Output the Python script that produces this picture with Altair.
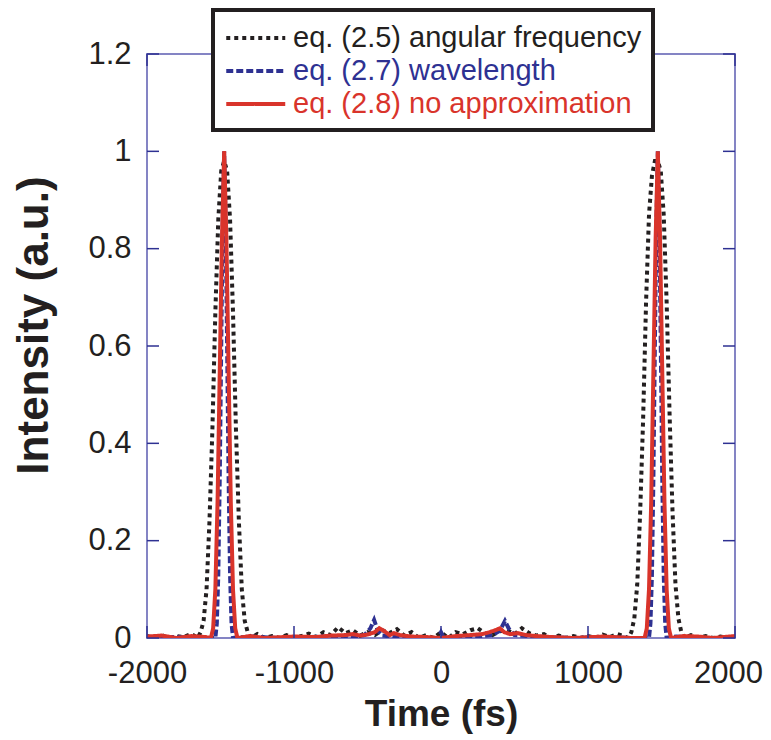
import altair as alt
import pandas as pd

series_names = ["eq. (2.5) angular frequency", "eq. (2.7) wavelength", "eq. (2.8) no approximation"]
series_colors = ["#231f20", "#2e3192", "#d9342b"]
series_dash = [[4, 4], [7, 3], [1, 0]]

x_ticks = [-2000, -1000, 0, 1000, 2000]
y_ticks = [0, 0.2, 0.4, 0.6, 0.8, 1, 1.2]

# eq. (2.5) angular frequency (black dotted)
t_black = [-2000, -1950, -1900, -1850, -1800, -1750, -1700, -1675, -1655, -1635,
           -1615, -1595, -1575, -1555, -1535, -1515, -1495, -1475, -1455, -1435,
           -1415, -1395, -1375, -1355, -1335, -1315, -1295, -1250, -1200, -1150,
           -1100, -1050, -1000, -950, -900, -850, -800, -750, -700, -650,
           -600, -550, -500, -450, -400, -350, -300, -250, -200, -150,
           -100, -50, 0, 50, 100, 150, 200, 250, 300, 350,
           400, 450, 500, 550, 600, 650, 700, 750, 800, 850,
           900, 950, 1000, 1050, 1100, 1150, 1200, 1250, 1275, 1295,
           1315, 1335, 1355, 1375, 1395, 1415, 1435, 1455, 1475, 1495,
           1515, 1535, 1555, 1575, 1595, 1615, 1635, 1655, 1700, 1750,
           1800, 1850, 1900, 1950, 2000]
i_black = [0.004, 0.0, 0.006, 0.0, 0.004, 0.002, 0.008, 0.004, 0.0, 0.012,
           0.035, 0.10, 0.24, 0.43, 0.67, 0.86, 0.96, 0.98, 0.96, 0.86,
           0.67, 0.43, 0.24, 0.10, 0.035, 0.012, 0.0, 0.008, 0.0, 0.004,
           0.0, 0.006, 0.0, 0.004, 0.009, 0.002, 0.012, 0.006, 0.022, 0.01,
           0.016, 0.005, 0.012, 0.006, 0.016, 0.01, 0.018, 0.005, 0.012, 0.0,
           0.006, 0.0, 0.012, 0.0, 0.012, 0.008, 0.016, 0.02, 0.01, 0.006,
           0.014, 0.016, 0.008, 0.02, 0.01, 0.005, 0.008, 0.0, 0.005, 0.0,
           0.004, 0.0, 0.004, 0.0, 0.007, 0.002, 0.008, 0.003, 0.0, 0.012,
           0.04, 0.11, 0.26, 0.45, 0.69, 0.87, 0.95, 0.98, 0.98, 0.96,
           0.87, 0.69, 0.46, 0.26, 0.11, 0.04, 0.012, 0.0, 0.006, 0.0,
           0.004, 0.0, 0.003, 0.0, 0.004]

# eq. (2.7) wavelength (blue dashed)
t_blue = [-2000, -1800, -1600, -1535, -1525, -1515, -1505, -1495, -1485, -1475,
          -1465, -1455, -1445, -1435, -1425, -1415, -1300, -1100, -900, -700,
          -600, -520, -480, -455, -430, -400, -300, -150, -20, 0,
          20, 200, 350, 400, 435, 460, 500, 600, 700, 900,
          1100, 1300, 1415, 1425, 1435, 1445, 1455, 1465, 1475, 1485,
          1495, 1505, 1515, 1525, 1535, 1600, 1800, 2000]
i_blue = [0.0, 0.002, 0.0, 0.0, 0.03, 0.13, 0.33, 0.6, 0.85, 1.0,
          0.85, 0.6, 0.33, 0.13, 0.03, 0.0, 0.003, 0.0, 0.002, 0.004,
          0.003, 0.006, 0.02, 0.037, 0.015, 0.005, 0.002, 0.0, 0.0, 0.012,
          0.0, 0.002, 0.006, 0.015, 0.035, 0.02, 0.006, 0.004, 0.002, 0.0,
          0.002, 0.0, 0.0, 0.03, 0.13, 0.33, 0.6, 0.85, 1.0, 0.85,
          0.6, 0.33, 0.13, 0.03, 0.0, 0.003, 0.0, 0.0]

# eq. (2.8) no approximation (red solid)
t_red = [-2000, -1900, -1800, -1700, -1600, -1565, -1550, -1535, -1520, -1505,
         -1490, -1475, -1460, -1445, -1430, -1415, -1400, -1385, -1300, -1200,
         -1000, -850, -750, -650, -600, -550, -500, -450, -420, -390,
         -350, -320, -280, -200, -100, 0, 100, 200, 280, 330,
         370, 400, 430, 470, 520, 580, 650, 750, 900, 1100,
         1300, 1385, 1400, 1415, 1430, 1445, 1460, 1475, 1490, 1505,
         1520, 1535, 1550, 1565, 1650, 1750, 1850, 2000]
i_red = [0.003, 0.005, 0.0, 0.004, 0.002, 0.0, 0.02, 0.10, 0.28, 0.55,
         0.82, 1.0, 0.82, 0.55, 0.28, 0.10, 0.02, 0.0, 0.004, 0.0,
         0.003, 0.002, 0.005, 0.006, 0.008, 0.005, 0.007, 0.012, 0.02, 0.015,
         0.006, 0.01, 0.006, 0.003, 0.002, 0.0, 0.004, 0.006, 0.008, 0.012,
         0.016, 0.02, 0.012, 0.008, 0.01, 0.006, 0.004, 0.002, 0.0, 0.003,
         0.0, 0.0, 0.02, 0.10, 0.28, 0.55, 0.82, 1.0, 0.82, 0.55,
         0.28, 0.10, 0.02, 0.0, 0.004, 0.003, 0.0, 0.004]

assert len(t_black) == len(i_black)
assert len(t_blue) == len(i_blue)
assert len(t_red) == len(i_red)

frames = []
for name, ts, vs in zip(series_names, [t_black, t_blue, t_red], [i_black, i_blue, i_red]):
    frames.append(pd.DataFrame({"t": ts, "v": vs, "series": name}))
df = pd.concat(frames, ignore_index=True)

W, H = 588, 584
FONT = "Liberation Sans"
TXT = "#231f20"
TICK = "#2e3192"

label_color = ("indexof(datum.label, '2.8') >= 0 ? '#d9342b' : "
               "(indexof(datum.label, '2.7') >= 0 ? '#2e3192' : '#231f20')")

leg = alt.Legend(
    title=None, orient="none", legendX=66, legendY=-44,
    symbolType="M-1,0H3", symbolSize=870, symbolStrokeWidth=4,
    labelFontSize=29, labelFont=FONT, labelLimit=600, labelOffset=35,
    labelColor=alt.ExprRef(label_color),
    padding=11, rowPadding=1, strokeColor="#231f20", fillColor="white",
)

x_scale = alt.Scale(domain=[-2000, 2000], nice=False, zero=False)
y_scale = alt.Scale(domain=[0, 1.2], nice=False)

x_axis = alt.Axis(values=x_ticks, labelExpr="datum.value + ''", grid=False,
                  domain=False, ticks=False, tickSize=0, labelPadding=20,
                  labelFlush=False, labelOverlap=False,
                  labelOffset=alt.ExprRef("datum.value == 2000 ? -7 : 0"),
                  labelFontSize=31, labelFont=FONT, labelColor=TXT,
                  title="Time (fs)", titleFontSize=37, titleFont=FONT,
                  titleFontWeight="bold", titleColor=TXT, titlePadding=8)
y_axis = alt.Axis(values=y_ticks, format="~g", grid=False, domain=False,
                  ticks=False, tickSize=0, labelPadding=16,
                  labelFlush=False, labelOverlap=False,
                  labelFontSize=31, labelFont=FONT, labelColor=TXT,
                  title="Intensity (a.u.)", titleFontSize=44, titleFont=FONT,
                  titleFontWeight="bold", titleColor=TXT, titlePadding=31,
                  titleY=271)

lines = alt.Chart(df).mark_line(strokeWidth=4, clip=True, strokeCap="butt").encode(
    x=alt.X("t:Q", scale=x_scale, axis=x_axis),
    y=alt.Y("v:Q", scale=y_scale, axis=y_axis),
    color=alt.Color("series:N", scale=alt.Scale(domain=series_names, range=series_colors), legend=leg),
    strokeDash=alt.StrokeDash("series:N", scale=alt.Scale(domain=series_names, range=series_dash), legend=leg),
)

ydf = pd.DataFrame({"v": y_ticks})
xdf = pd.DataFrame({"t": x_ticks})

left_ticks = alt.Chart(ydf).mark_rule(color=TICK, strokeWidth=1.5).encode(
    y=alt.Y("v:Q", scale=y_scale, axis=y_axis), x=alt.value(0), x2=alt.value(12))
right_ticks = alt.Chart(ydf).mark_rule(color=TICK, strokeWidth=1.5).encode(
    y=alt.Y("v:Q", scale=y_scale, axis=y_axis), x=alt.value(W - 12), x2=alt.value(W))
bottom_ticks = alt.Chart(xdf).mark_rule(color=TICK, strokeWidth=1.5).encode(
    x=alt.X("t:Q", scale=x_scale, axis=x_axis), y=alt.value(H), y2=alt.value(H - 12))
top_ticks = alt.Chart(xdf).mark_rule(color=TICK, strokeWidth=1.5).encode(
    x=alt.X("t:Q", scale=x_scale, axis=x_axis), y=alt.value(0), y2=alt.value(12))

chart = alt.layer(lines, left_ticks, right_ticks, bottom_ticks, top_ticks).properties(
    width=W, height=H,
    autosize=alt.AutoSizeParams(type="none"),
    padding={"left": 139, "top": 46, "right": 28, "bottom": 96},
).configure_view(stroke="#8484c4", strokeWidth=2).configure_legend(strokeWidth=4)

chart.save("out.html", embed_options={"renderer": "svg", "actions": False})
